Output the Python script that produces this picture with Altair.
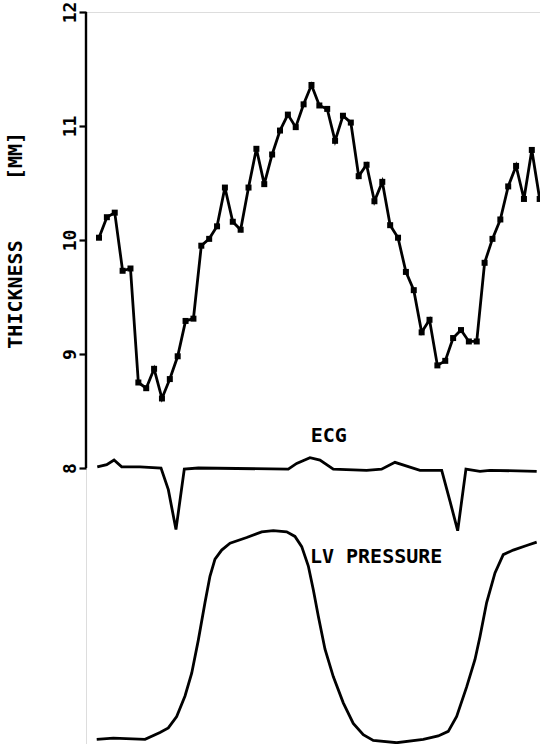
import altair as alt
import pandas as pd

# Wall thickness samples (mm), one per frame index
thick_t = list(range(57))
thick_v = [10.02, 10.20, 10.24, 9.73, 9.75, 8.75, 8.70, 8.87, 8.61, 8.78,
           8.98, 9.29, 9.31, 9.95, 10.01, 10.12, 10.46, 10.16, 10.09, 10.46,
           10.80, 10.49, 10.75, 10.96, 11.10, 10.99, 11.19, 11.36, 11.18, 11.15,
           10.87, 11.09, 11.03, 10.56, 10.66, 10.34, 10.51, 10.13, 10.02, 9.72,
           9.56, 9.19, 9.30, 8.90, 8.94, 9.14, 9.21, 9.11, 9.11, 9.80,
           10.01, 10.18, 10.47, 10.65, 10.36, 10.79, 10.36]

# ECG trace (same time base, drawn in the axis units)
ecg_t = [-0.22, 0.98, 1.91, 2.88, 5.21, 7.88, 8.81, 9.78, 10.84, 12.62,
         24.05, 25.12, 26.81, 28.08, 29.77, 34.0, 35.91, 37.61, 40.79, 43.55,
         44.6, 45.58, 46.63, 48.41, 49.68, 55.62]
ecg_v = [8.01, 8.03, 8.07, 8.01, 8.01, 8.00, 7.81, 7.46, 7.99, 8.00,
         7.99, 8.04, 8.09, 8.07, 7.99, 7.98, 7.99, 8.05, 7.98, 7.98,
         7.71, 7.45, 7.99, 7.97, 7.98, 7.97]

# LV pressure trace
lv_t = [-0.29, 1.82, 5.85, 7.75, 8.81, 9.87, 10.93, 11.78, 12.62, 13.47,
        14.10, 14.74, 15.59, 16.65, 18.77, 20.67, 22.15, 23.85, 24.9, 25.76,
        26.60, 27.24, 27.87, 28.72, 29.77, 31.04, 32.31, 33.58, 34.85, 37.83,
        41.21, 43.11, 44.38, 45.45, 46.72, 47.78, 48.41, 49.26, 50.32, 51.37,
        52.64, 54.34, 55.62]
lv_v = [5.62, 5.63, 5.62, 5.68, 5.72, 5.82, 6.00, 6.20, 6.49, 6.82,
        7.05, 7.20, 7.28, 7.34, 7.39, 7.44, 7.45, 7.44, 7.40, 7.31,
        7.14, 6.93, 6.70, 6.41, 6.17, 5.94, 5.76, 5.66, 5.61, 5.59,
        5.62, 5.65, 5.69, 5.82, 6.08, 6.32, 6.52, 6.82, 7.08, 7.24,
        7.28, 7.32, 7.35]

y_ticks = [8, 9, 10, 11, 12]
labels_text = ["ECG", "LV PRESSURE"]
labels_t = [29.2, 26.8]
labels_v = [8.23, 7.17]
title_text = "THICKNESS\u00a0\u00a0\u00a0\u00a0\u00a0[MM]"

thick_df = pd.DataFrame({"t": thick_t, "v": thick_v})
ecg_df = pd.DataFrame({"t": ecg_t, "v": ecg_v})
lv_df = pd.DataFrame({"t": lv_t, "v": lv_v})

FONT = "DejaVu Sans Mono"
LW = 2.8
W, H = 454, 732
xs = alt.Scale(domain=[-1.652, 56.04], nice=False, zero=False)
ys = alt.Scale(domain=[12 - H / 114.0, 12], nice=False, zero=False)

y_axis = alt.Axis(
    values=y_ticks, domain=False, grid=False, title=None,
    domainColor="transparent", domainOpacity=0,
    tickSize=7, tickWidth=2.2, tickColor="black",
    labelAngle=270, labelAlign="center", labelBaseline="alphabetic",
    labelPadding=4, labelFont=FONT, labelFontSize=18, labelFontWeight="bold",
    labelColor="black", format="d")
x_enc = alt.X("t:Q", scale=xs, axis=None)
y_enc = alt.Y("v:Q", scale=ys, axis=y_axis)

thick = alt.Chart(thick_df).mark_line(
    color="black", strokeWidth=LW,
    point=alt.OverlayMarkDef(shape="square", size=36, filled=True, color="black")
).encode(x=x_enc, y=y_enc)

ecg = alt.Chart(ecg_df).mark_line(color="black", strokeWidth=LW).encode(
    x=x_enc, y=y_enc)

lv = alt.Chart(lv_df).mark_line(color="black", strokeWidth=LW).encode(
    x=x_enc, y=y_enc)

axis_line = alt.Chart(pd.DataFrame({"v": [y_ticks[0]], "b": [y_ticks[-1]]})).mark_rule(
    color="black", strokeWidth=2.4).encode(
    x=alt.value(0), y=alt.datum(y_ticks[0]), y2=alt.datum(y_ticks[-1]))

lab_df = pd.DataFrame({"t": labels_t, "v": labels_v, "s": labels_text})
lab1 = alt.Chart(lab_df.iloc[[0]]).mark_text(
    font=FONT, fontSize=20, fontWeight="bold", color="black", align="center",
    baseline="alphabetic"
).encode(x=x_enc, y=y_enc, text="s:N")
lab2 = alt.Chart(lab_df.iloc[[1]]).mark_text(
    font=FONT, fontSize=20, fontWeight="bold", color="black", align="left",
    baseline="alphabetic"
).encode(x=x_enc, y=y_enc, text="s:N")

title = alt.Chart(pd.DataFrame({"s": [title_text]})).mark_text(
    font=FONT, fontSize=20, fontWeight="bold", color="black", angle=270,
    align="center", baseline="middle"
).encode(x=alt.value(-70), y=alt.value(228.3), text="s:N")

chart = alt.layer(lv, ecg, thick, axis_line, lab1, lab2, title).properties(
    width=W, height=H,
    autosize=alt.AutoSizeParams(type="none"),
    padding={"left": 86, "top": 12, "right": 0, "bottom": 0},
).configure_view(stroke="transparent", strokeWidth=0, strokeOpacity=0).configure_axis(
    domain=False, grid=False, domainColor="transparent", domainOpacity=0
).configure_axisY(domain=False, grid=False).configure_axisLeft(
    domain=False, grid=False
).configure(background="white")

chart.save("out.html", embed_options={"renderer": "svg", "actions": False})
